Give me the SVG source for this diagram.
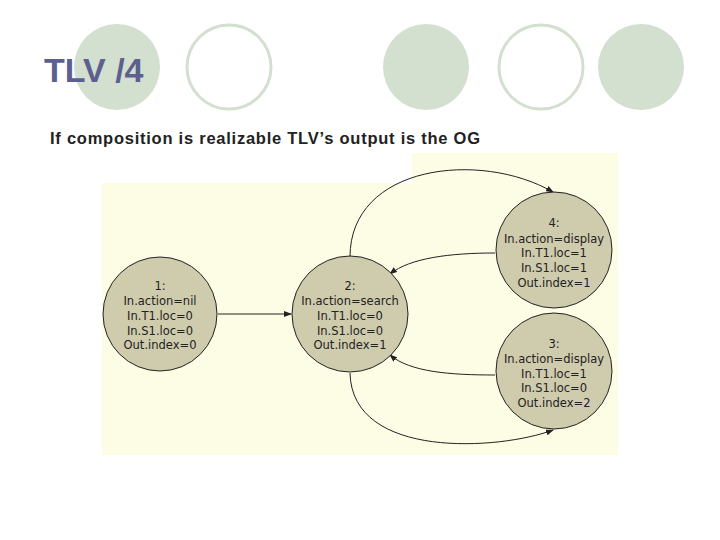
<svg xmlns="http://www.w3.org/2000/svg" width="720" height="540" viewBox="0 0 720 540">
<defs>
<style>
.deco{fill:#d3dfcf}
.ring{fill:#fff;stroke:#d3dfcf;stroke-width:3}
.node{fill:#cfcbad;stroke:#222;stroke-width:1}
.nt{font-family:"DejaVu Sans",sans-serif;font-size:11.5px;fill:#222;text-anchor:middle}
.e{fill:none;stroke:#222;stroke-width:1;marker-end:url(#ah)}
</style>
<marker id="ah" markerWidth="8" markerHeight="6" refX="7" refY="3" orient="auto" markerUnits="userSpaceOnUse">
<path d="M0,0 L8,3 L0,6 Z" fill="#222"/>
</marker>
</defs>
<rect width="720" height="540" fill="#fff"/>
<circle class="deco" cx="117" cy="67" r="43"/>
<circle class="ring" cx="229" cy="67" r="42"/>
<circle class="deco" cx="426" cy="67" r="43"/>
<circle class="ring" cx="541" cy="67" r="42"/>
<circle class="deco" cx="641" cy="67" r="43"/>
<text x="44" y="82" font-family="Liberation Sans,sans-serif" font-size="34" font-weight="bold" fill="#5c6090">TLV /4</text>
<text x="50" y="144" font-family="Liberation Sans,sans-serif" font-size="16.5" font-weight="bold" fill="#222" textLength="430">If composition is realizable TLV’s output is the OG</text>
<path d="M102,183 H412 V153 H618 V455 H102 Z" fill="#fdfde6"/>
<g id="connectors">
<path class="e" d="M218,314 L291,314"/>
<path class="e" d="M350,257 C350,165 480,150 553,192"/>
<path class="e" d="M495,253 C450,253 410,258 390,274"/>
<path class="e" d="M495,375 C450,375 410,372 390,355"/>
<path class="e" d="M350,373 C352,460 500,450 553,430"/>
</g>
<g id="n1"><circle class="node" cx="160" cy="314" r="57"/>
<text class="nt" x="160" y="290">1:</text><text class="nt" x="160" y="305">In.action=nil</text><text class="nt" x="160" y="320">In.T1.loc=0</text><text class="nt" x="160" y="335">In.S1.loc=0</text><text class="nt" x="160" y="349">Out.index=0</text></g>
<g id="n2"><circle class="node" cx="350" cy="314" r="58"/>
<text class="nt" x="350" y="290">2:</text><text class="nt" x="350" y="305">In.action=search</text><text class="nt" x="350" y="320">In.T1.loc=0</text><text class="nt" x="350" y="335">In.S1.loc=0</text><text class="nt" x="350" y="349">Out.index=1</text></g>
<g id="n4"><circle class="node" cx="554" cy="250" r="58"/>
<text class="nt" x="554" y="227">4:</text><text class="nt" x="554" y="243">In.action=display</text><text class="nt" x="554" y="257">In.T1.loc=1</text><text class="nt" x="554" y="272">In.S1.loc=1</text><text class="nt" x="554" y="287">Out.index=1</text></g>
<g id="n3"><circle class="node" cx="554" cy="371" r="58"/>
<text class="nt" x="554" y="348">3:</text><text class="nt" x="554" y="363">In.action=display</text><text class="nt" x="554" y="378">In.T1.loc=1</text><text class="nt" x="554" y="392">In.S1.loc=0</text><text class="nt" x="554" y="407">Out.index=2</text></g>
</svg>
